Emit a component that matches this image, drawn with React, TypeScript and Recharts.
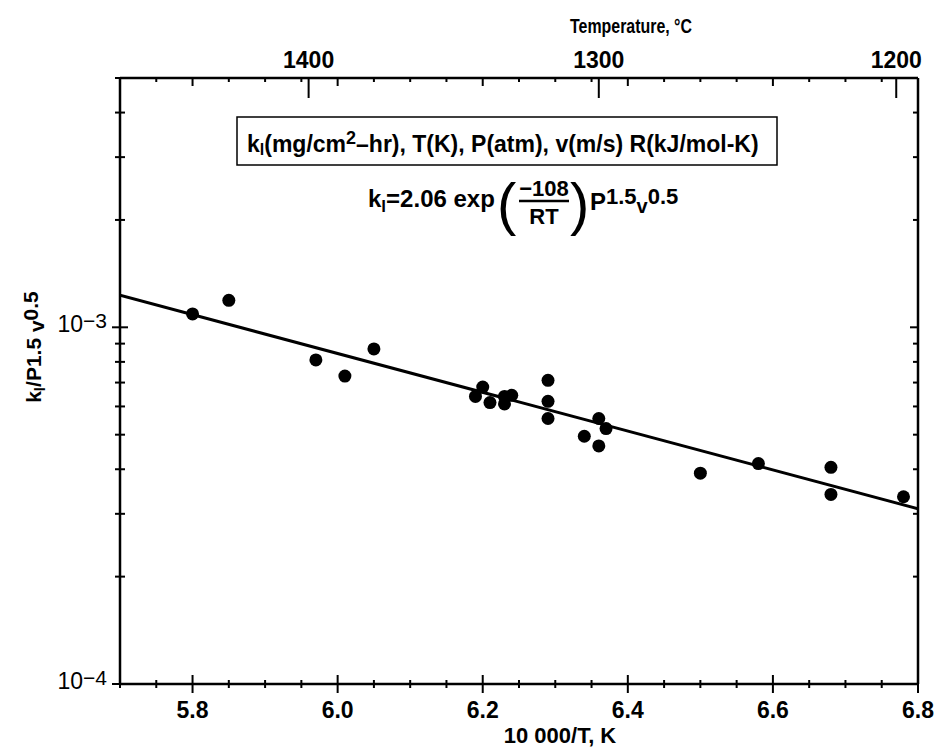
import React from 'react';
import { ScatterChart, Scatter, XAxis, YAxis, Customized } from 'recharts';

// measured points: 10000/T (K) vs k_l / (P^1.5 v^0.5)
const invTemp = [5.8, 5.85, 5.97, 6.01, 6.05, 6.19, 6.2, 6.21, 6.23, 6.23, 6.24, 6.29, 6.29, 6.29, 6.34, 6.36, 6.36, 6.37, 6.5, 6.58, 6.68, 6.68, 6.78];
const rateNorm = [1.09e-3, 1.19e-3, 8.1e-4, 7.3e-4, 8.7e-4, 6.4e-4, 6.8e-4, 6.15e-4, 6.4e-4, 6.1e-4, 6.45e-4, 7.1e-4, 6.2e-4, 5.55e-4, 4.95e-4, 5.55e-4, 4.65e-4, 5.2e-4, 3.9e-4, 4.15e-4, 4.05e-4, 3.4e-4, 3.35e-4];

// fitted line end points
const fitInvTemp = [5.7, 6.8];
const fitRate = [1.23e-3, 3.1e-4];

// axis ticks
const xTicks = [5.7, 5.75, 5.8, 5.85, 5.9, 5.95, 6.0, 6.05, 6.1, 6.15, 6.2, 6.25, 6.3, 6.35, 6.4, 6.45, 6.5, 6.55, 6.6, 6.65, 6.7, 6.75, 6.8];
const xMajor = [5.8, 6.0, 6.2, 6.4, 6.6, 6.8];
const xLabels = ['5.8', '6.0', '6.2', '6.4', '6.6', '6.8'];
const tempTickPos = [5.96, 6.36, 6.77];
const tempLabels = ['1400', '1300', '1200'];
const yTicks = [1e-4, 2e-4, 3e-4, 4e-4, 5e-4, 6e-4, 7e-4, 8e-4, 9e-4, 1e-3, 2e-3, 3e-3, 4e-3, 5e-3];
const yDecades = [1e-4, 1e-3];
const yExponents = ['\u22124', '\u22123'];

const points = invTemp.map((x, i) => ({ x, y: rateNorm[i] }));
const fitLine = fitInvTemp.map((x, i) => ({ x, y: fitRate[i] }));

const FONT = '"Liberation Sans", Arial, Helvetica, sans-serif';
const findIn = (arr: number[], v: number) => arr.findIndex(a => Math.abs(a - v) / Math.abs(a) < 1e-6);

const BottomTick = (props: any) => {
  const { x, y, payload } = props;
  const idx = findIn(xMajor, payload.value);
  const len = idx >= 0 ? 9 : 4;
  return (
    <g>
      <line x1={x} x2={x} y1={y - len} y2={y + len} stroke="#000" strokeWidth={2} />
      {idx >= 0 && (
        <text x={x} y={y + 34} textAnchor="middle" fontFamily={FONT} fontWeight="bold" fontSize={23} fill="#000">
          {xLabels[idx]}
        </text>
      )}
    </g>
  );
};

const TopTick = (props: any) => {
  const { x, y, payload } = props;
  const t = findIn(tempTickPos, payload.value);
  const len = t >= 0 ? 20 : findIn(xMajor, payload.value) >= 0 ? 8 : 4;
  return (
    <g>
      <line x1={x} x2={x} y1={y} y2={y + len} stroke="#000" strokeWidth={2} />
      {t >= 0 && (
        <text x={x} y={y - 10} textAnchor="middle" fontFamily={FONT} fontWeight="bold" fontSize={23} fill="#000">
          {tempLabels[t]}
        </text>
      )}
    </g>
  );
};

const LeftTick = (props: any) => {
  const { x, y, payload } = props;
  const d = findIn(yDecades, payload.value);
  const len = d >= 0 ? 8 : 5;
  return (
    <g>
      <line x1={x - len} x2={x + len} y1={y} y2={y} stroke="#000" strokeWidth={2} />
      {d >= 0 && (
        <text x={x - 13} y={y + 5} textAnchor="end" fontFamily={FONT} fontSize={23} fill="#000">
          10<tspan dy={-4} fontSize={21}>{yExponents[d]}</tspan>
        </text>
      )}
    </g>
  );
};

const RightTick = (props: any) => {
  const { x, y, payload } = props;
  const len = findIn(yDecades, payload.value) >= 0 ? 8 : 5;
  return <line x1={x - len} x2={x} y1={y} y2={y} stroke="#000" strokeWidth={2} />;
};

const Annotations = () => (
  <g fontFamily={FONT} fill="#000">
    <text x={570} y={33} fontSize={20} fontWeight="bold" textLength={122} lengthAdjust="spacingAndGlyphs">
      Temperature, °C
    </text>
    <text x={560} y={743} textAnchor="middle" fontSize={22} fontWeight="bold">10 000/T, K</text>
    <text transform="translate(41,347) rotate(-90)" textAnchor="middle" fontSize={21} fontWeight="bold">
      k<tspan dy={4} fontSize={15}>l</tspan>
      <tspan dy={-4}>/P1.5 </tspan>
      <tspan dy={3}>v</tspan>
      <tspan dy={-6}>0.5</tspan>
    </text>

    <rect x={237} y={117} width={540} height={48} fill="none" stroke="#000" strokeWidth={1.5} />
    <text x={247} y={152} fontSize={23} fontWeight="bold">
      k<tspan dy={3} fontSize={16}>l</tspan>
      <tspan dy={-3}>(mg/cm</tspan>
      <tspan dy={-8} fontSize={18}>2</tspan>
      <tspan dy={8}>–hr), T(K), P(atm), v(m/s) R(kJ/mol-K)</tspan>
    </text>

    <text x={368} y={207} fontSize={24} fontWeight="bold">
      k<tspan dy={5} fontSize={17}>l</tspan>
      <tspan dy={-5}>=2.06 exp</tspan>
    </text>
    <text x={497} y={224} fontSize={58} fontWeight="normal">(</text>
    <text x={544} y={196} textAnchor="middle" fontSize={22} fontWeight="bold">{'\u2212'}108</text>
    <line x1={519} x2={569} y1={201} y2={201} stroke="#000" strokeWidth={2.5} />
    <text x={544} y={224} textAnchor="middle" fontSize={22} fontWeight="bold">RT</text>
    <text x={570} y={224} fontSize={58} fontWeight="normal">)</text>
    <text x={590} y={210} fontSize={24} fontWeight="bold">
      P<tspan dy={-6} fontSize={22}>1.5</tspan>
      <tspan dy={9} fontSize={20}>v</tspan>
      <tspan dy={-9} fontSize={22}>0.5</tspan>
    </text>
  </g>
);

export default function App() {
  return (
    <div style={{ position: 'absolute', left: 0, top: 0, background: '#fff' }}>
      <ScatterChart width={943} height={750} margin={{ top: 38, right: 20, bottom: 26, left: 60 }}>
        <XAxis
          xAxisId="bottom"
          dataKey="x"
          type="number"
          domain={[5.7, 6.8]}
          ticks={xTicks}
          allowDataOverflow
          height={40}
          tickLine={false}
          tickSize={0}
          tickMargin={0}
          axisLine={{ stroke: '#000', strokeWidth: 2.5 }}
          tick={BottomTick}
          interval={0}
        />
        <XAxis
          xAxisId="top"
          orientation="top"
          dataKey="x"
          type="number"
          domain={[5.7, 6.8]}
          ticks={[...xTicks, ...tempTickPos].sort((a, b) => a - b)}
          allowDataOverflow
          height={40}
          tickLine={false}
          tickSize={0}
          tickMargin={0}
          axisLine={{ stroke: '#000', strokeWidth: 2.5 }}
          tick={TopTick}
          interval={0}
        />
        <YAxis
          yAxisId="left"
          dataKey="y"
          type="number"
          scale="log"
          domain={[1e-4, 5e-3]}
          ticks={yTicks}
          allowDataOverflow
          width={60}
          tickLine={false}
          tickSize={0}
          tickMargin={0}
          axisLine={{ stroke: '#000', strokeWidth: 2.5 }}
          tick={LeftTick}
          interval={0}
        />
        <YAxis
          yAxisId="right"
          orientation="right"
          dataKey="y"
          type="number"
          scale="log"
          domain={[1e-4, 5e-3]}
          ticks={yTicks}
          allowDataOverflow
          width={5}
          tickLine={false}
          tickSize={0}
          tickMargin={0}
          axisLine={{ stroke: '#000', strokeWidth: 2.5 }}
          tick={RightTick}
          interval={0}
        />
        <Scatter
          xAxisId="bottom"
          yAxisId="left"
          data={fitLine}
          line={{ stroke: '#000', strokeWidth: 3 }}
          shape={() => <g />}
          isAnimationActive={false}
        />
        <Scatter
          xAxisId="bottom"
          yAxisId="left"
          data={points}
          fill="#000"
          shape={(p: any) => <circle cx={p.cx} cy={p.cy} r={6.5} fill="#000" />}
          isAnimationActive={false}
        />
        <Scatter
          xAxisId="top"
          yAxisId="right"
          data={points}
          shape={() => <g />}
          isAnimationActive={false}
        />
        <Customized component={Annotations} />
      </ScatterChart>
    </div>
  );
}
